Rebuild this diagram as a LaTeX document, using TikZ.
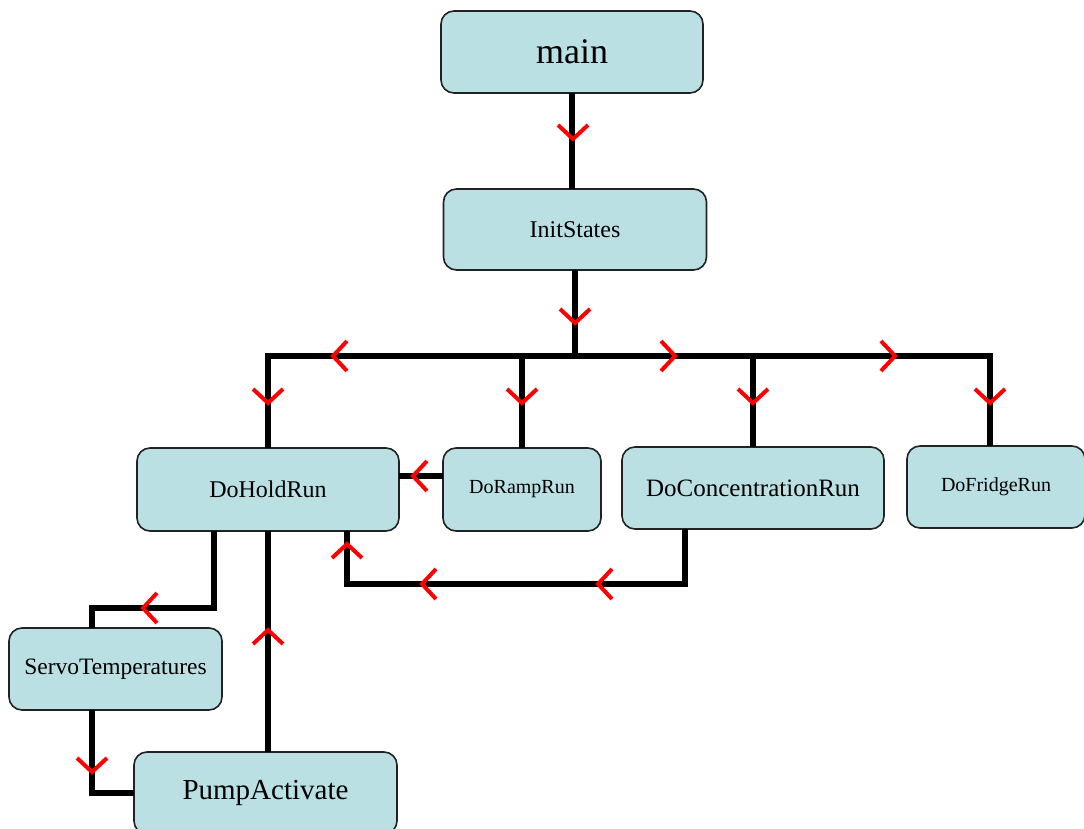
\documentclass[tikz,border=0pt]{standalone}
\usepackage{fontspec}
\setmainfont{Liberation Serif}
\definecolor{boxfill}{HTML}{BAE0E3}
\definecolor{boxline}{HTML}{222222}
\tikzset{
  box/.style={draw=boxline, line width=1.6pt, fill=boxfill, rounded corners=13pt,
    inner sep=0pt, outer sep=0pt, align=center},
  conn/.style={line width=5.5pt, black, line join=miter},
  chev/.pic={\draw[red, line width=4pt, line join=miter] (-15,14) -- (0,0) -- (15,14);}
}
\newcommand{\fs}[1]{\fontsize{#1}{#1}\selectfont}
\begin{document}
\begin{tikzpicture}[x=1pt,y=1pt]
\useasboundingbox (0,0) rectangle (1084,-829);
% connectors first (under boxes)
\coordinate (bus) at (0,-356);
\coordinate (rampy) at (0,-476);
\coordinate (low) at (0,-584);
\coordinate (mid) at (0,-608);

\node[box, minimum width=262pt, minimum height=82pt, font=\fs{36}] (main) at (572,-52) {main};
\node[box, minimum width=263pt, minimum height=81pt, font=\fs{24}] (init) at (575,-229.5) {InitStates};
\node[box, minimum width=262pt, minimum height=83pt, font=\fs{24}] (hold) at (268,-489.5) {DoHoldRun};
\node[box, minimum width=158pt, minimum height=83pt, font=\fs{20}] (ramp) at (522,-489.5) {DoRampRun};
\node[box, minimum width=262pt, minimum height=82pt, font=\fs{25}] (conc) at (753,-488) {DoConcentrationRun};
\node[box, minimum width=178pt, minimum height=82pt, font=\fs{20}] (fridge) at (996,-487) {DoFridgeRun};
\node[box, minimum width=213pt, minimum height=82pt, font=\fs{23.5}] (servo) at (115.5,-669) {ServoTemperatures};
\node[box, minimum width=263pt, minimum height=82pt, font=\fs{29}] (pump) at (265.5,-793) {PumpActivate};

\coordinate (fdrop) at ([xshift=-6pt]fridge.north);
\coordinate (cdrop) at ([xshift=-68pt]conc.south);
\coordinate (hin) at ([xshift=79pt]hold.south);
\coordinate (hs) at ([xshift=-54pt]hold.south);
\coordinate (stop) at ([xshift=-23.5pt]servo.north);
\coordinate (sbot) at ([xshift=-23.5pt]servo.south);
\coordinate (pup) at ([xshift=2.5pt]pump.north);

\draw[conn] (main.south) -- (main.south |- init.north);
\draw[conn] (init.south) -- (init.south |- bus);
\draw[conn] (hold.north) -- (hold.north |- bus) -- (fdrop |- bus) -- (fdrop);
\draw[conn] (ramp.north) -- (ramp.north |- bus);
\draw[conn] (conc.north) -- (conc.north |- bus);
\draw[conn] (ramp.west |- rampy) -- (hold.east |- rampy);
\draw[conn] (cdrop) -- (cdrop |- low) -- (hin |- low) -- (hin);
\draw[conn] (hs) -- (hs |- mid) -- (stop |- mid) -- (stop);
\draw[conn] (sbot) |- (pump.west);
\draw[conn] (pup) -- (pup |- hold.south);

% chevrons
\pic at (573,-139) {chev};
\pic at (575,-323) {chev};
\pic[rotate=-90] at (333,-356) {chev};
\pic[rotate=90] at (675,-356) {chev};
\pic[rotate=90] at (895,-356) {chev};
\pic at (268,-403) {chev};
\pic at (522,-403) {chev};
\pic at (753,-403) {chev};
\pic at (990,-403) {chev};
\pic[rotate=-90] at (413,-476) {chev};
\pic[rotate=180] at (347,-544) {chev};
\pic[rotate=-90] at (422,-584) {chev};
\pic[rotate=-90] at (598,-584) {chev};
\pic[rotate=-90] at (143,-608) {chev};
\pic at (92,-772) {chev};
\pic[rotate=180] at (268,-630) {chev};
\end{tikzpicture}
\end{document}
